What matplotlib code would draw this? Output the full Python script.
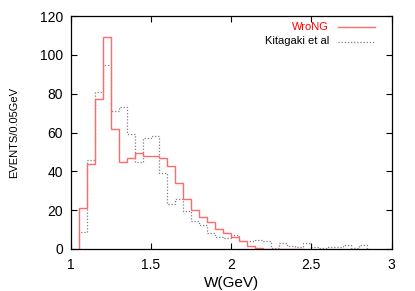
import matplotlib
matplotlib.use("Agg")
import matplotlib.pyplot as plt
import numpy as np

plt.rcParams['font.family'] = ['Liberation Sans', 'DejaVu Sans']

bin_width = 0.05
wrong_start = 1.05
wrong_counts = [21, 44, 77, 109, 62, 45, 47, 49.5, 48, 48, 47, 42.5, 34, 26, 20,
                16.5, 13.7, 10.3, 8, 6, 4, 1.8, 0.5, 0, 0, 0, 0, 0]
kit_start = 1.05
kit_counts = [9, 46, 81, 95, 71, 73, 59, 45, 57, 58, 39, 23, 26, 19.5, 14.5,
              12.3, 8, 6.4, 5.5, 7, 4.3, 4.3, 4.8, 4.3, 0.5, 2.9, 1.8, 0.9,
              2.9, 0.9, 0.3, 0.9, 0.9, 2, 0.3, 2]
labels = ["WroNG", "Kitagaki et al"]
xticks = [1, 1.5, 2, 2.5, 3]
xtick_labels = ["1", "1.5", "2", "2.5", "3"]
yticks = [0, 20, 40, 60, 80, 100, 120]

W, H = 415, 291
fig = plt.figure(figsize=(W / 100, H / 100), dpi=100)
ax = fig.add_axes([70.7 / W, 1 - 249 / H, (391.5 - 70.7) / W, (249 - 16) / H])

edges_w = wrong_start + bin_width * np.arange(len(wrong_counts) + 1)
edges_k = kit_start + bin_width * np.arange(len(kit_counts) + 1)

ax.stairs(kit_counts, edges_k, color='#7f7f7f', lw=0.9, linestyle=(0, (1, 1.5)), baseline=0)
ax.stairs(wrong_counts, edges_w, color='#ff6b6b', lw=1.0, baseline=0)

ax.set_xlim(1, 3)
ax.set_ylim(0, 120)
ax.set_xticks(xticks)
ax.set_xticklabels(xtick_labels)
ax.set_yticks(yticks)
ax.tick_params(direction='in', length=4, width=0.8, top=True, right=True,
               labelsize=10, colors='black')
ax.tick_params(axis='x', pad=6.5)
ax.tick_params(axis='y', pad=5.5)
for s in ax.spines.values():
    s.set_linewidth(0.9)

ax.set_xlabel("W(GeV)", fontsize=11, labelpad=3)
ax.set_ylabel("EVENTS/0.05GeV", fontsize=8)
ax.yaxis.set_label_coords((19 - 70.7) / (391.5 - 70.7), 0.5)

# legend gnuplot-style
tx = (329 - 70.7) / (391.5 - 70.7)
lx0 = (338 - 70.7) / (391.5 - 70.7)
lx1 = (375 - 70.7) / (391.5 - 70.7)
y1 = (249 - 27) / (249 - 16)
y2 = (249 - 41.5) / (249 - 16)
ax.text(tx, y1, labels[0], transform=ax.transAxes, ha='right', va='center',
        fontsize=8, color='red')
ax.text(tx, y2, labels[1], transform=ax.transAxes, ha='right', va='center',
        fontsize=8, color='black')
ax.plot([lx0, lx1], [y1, y1], transform=ax.transAxes, color='#ff6b6b', lw=1.0)
ax.plot([lx0, lx1], [y2, y2], transform=ax.transAxes, color='#7f7f7f', lw=0.9,
        linestyle=(0, (1, 1.5)))

fig.savefig("out.png", dpi=100)
